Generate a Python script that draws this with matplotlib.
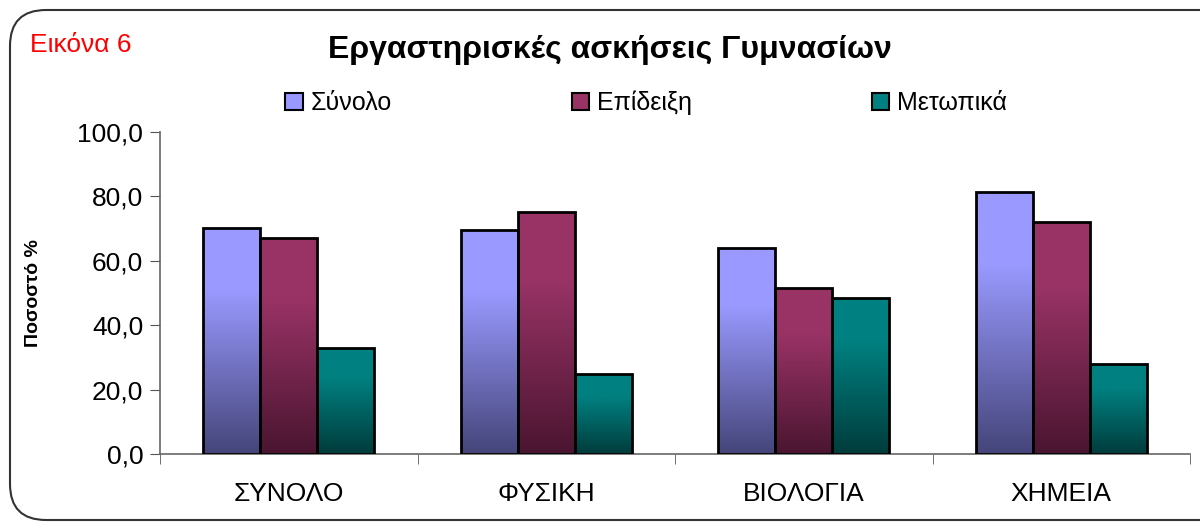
import numpy as np
import matplotlib.pyplot as plt
from matplotlib.colors import LinearSegmentedColormap
from matplotlib.patches import FancyBboxPatch
from matplotlib.ticker import FuncFormatter

plt.rcParams['font.family'] = ['Liberation Sans', 'DejaVu Sans']

categories = ['ΣΥΝΟΛΟ', 'ΦΥΣΙΚΗ', 'ΒΙΟΛΟΓΙΑ', 'ΧΗΜΕΙΑ']
series_names = ['Σύνολο', 'Επίδειξη', 'Μετωπικά']
synolo = [70.2, 69.6, 64.0, 81.4]
epideixi = [67.1, 75.2, 51.6, 72.0]
metopika = [32.9, 24.8, 48.4, 28.0]
values = [synolo, epideixi, metopika]

light = ['#9999FF', '#993366', '#008080']
dark = ['#45457a', '#4a1530', '#003c3c']

fig = plt.figure(figsize=(12, 5.28), dpi=100)

# rounded frame round the whole chart
frame = FancyBboxPatch((10 / 1200, 8 / 528), 1.05, 510 / 528,
                       boxstyle="round,pad=0,rounding_size=0.03",
                       transform=fig.transFigure, fill=False,
                       edgecolor='#333333', linewidth=1.5, clip_on=False,
                       mutation_aspect=1200 / 528)
fig.patches.append(frame)

ax = fig.add_axes([160 / 1200, 1 - 454 / 528, 1030 / 1200, 322 / 528])

x = np.arange(len(categories))
w = 0.222
grad = np.linspace(0, 1, 256).reshape(-1, 1)

handles = []
for i, (vals, name) in enumerate(zip(values, series_names)):
    cmap = LinearSegmentedColormap.from_list(
        name, [(0, dark[i]), (0.72, light[i]), (1, light[i])])
    bars = ax.bar(x + (i - 1) * w, vals, w, color=light[i], edgecolor='black',
                  linewidth=2, zorder=3, label=name)
    for b in bars:
        b.set_facecolor('none')
        x0, y0 = b.get_x(), b.get_y()
        im = ax.imshow(grad, extent=[x0, x0 + b.get_width(), y0, y0 + b.get_height()],
                       origin='lower', aspect='auto', cmap=cmap, zorder=2)
        im.set_clip_path(b)
    handles.append(plt.Rectangle((0, 0), 1, 1, facecolor=light[i], edgecolor='black', linewidth=1.5))

ax.set_xlim(-0.5, len(categories) - 0.5)
ax.set_ylim(0, 100)
ax.set_yticks(np.arange(0, 101, 20))
ax.yaxis.set_major_formatter(FuncFormatter(lambda v, p: f'{v:.1f}'.replace('.', ',')))
ax.set_xticks(x)
ax.set_xticklabels(categories)
ax.set_xticks(np.arange(-0.5, len(categories)), minor=True)
ax.tick_params(axis='x', which='major', length=0, pad=20, labelsize=19)
ax.tick_params(axis='x', which='minor', length=7, color='#555555', direction='out')
ax.tick_params(axis='y', length=7, color='#555555', labelsize=19, pad=5)

for s in ['top', 'right']:
    ax.spines[s].set_visible(False)
for s in ['left', 'bottom']:
    ax.spines[s].set_color('#666666')
    ax.spines[s].set_linewidth(1.2)

ax.set_ylabel('Ποσοστό %', fontsize=14, fontweight='bold')
ax.yaxis.set_label_coords(-0.115, 0.5)

fig.text(610 / 1200, 1 - 50 / 528, 'Εργαστηρισκές ασκήσεις Γυμνασίων',
         ha='center', va='center', fontsize=23, fontweight='bold')
fig.text(30 / 1200, 1 - 45 / 528, 'Εικόνα 6', color='red', ha='left',
         va='center', fontsize=19)

fig.legend(handles, series_names, loc='center', ncol=3,
           bbox_to_anchor=(646 / 1200, 1 - 103 / 528), frameon=False,
           fontsize=18, handlelength=0.7, handleheight=0.7,
           handletextpad=0.3, columnspacing=7.2)

fig.savefig('out.png', dpi=100)
